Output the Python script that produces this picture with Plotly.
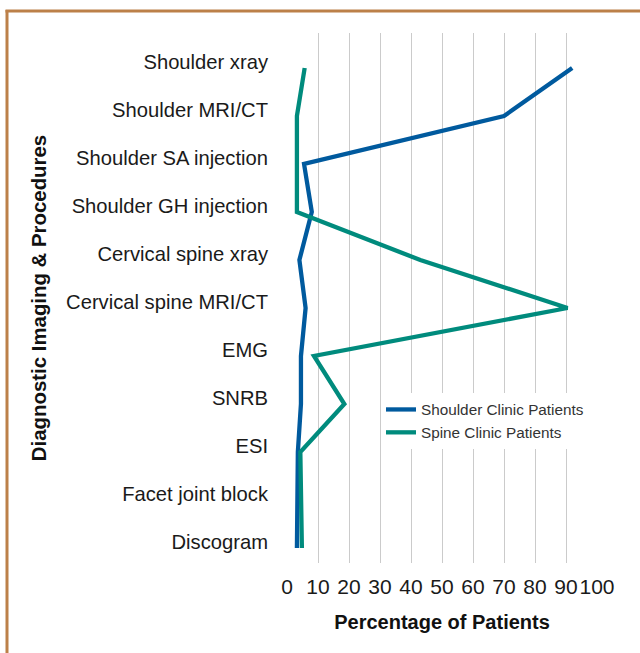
import plotly.graph_objects as go

categories = [
    "Shoulder xray", "Shoulder MRI/CT", "Shoulder SA injection", "Shoulder GH injection",
    "Cervical spine xray", "Cervical spine MRI/CT", "EMG", "SNRB", "ESI",
    "Facet joint block", "Discogram",
]
shoulder_clinic = [92, 70, 5.5, 8, 4, 6, 4.5, 4.5, 3.5, 3.3, 3.2]
spine_clinic = [5.7, 3.2, 3.2, 3.2, 43, 90.5, 8.7, 18.5, 4.3, 4.5, 4.8]
x_ticks = [0, 10, 20, 30, 40, 50, 60, 70, 80, 90, 100]

W, H = 640, 653
ML, MR, MT, MB = 287, 43, 33, 90
PW, PH = W - ML - MR, H - MT - MB

BLUE = "#005A9E"
TEAL = "#008B7D"
FONT = "Liberation Sans"

fig = go.Figure()
fig.add_trace(go.Scatter(x=shoulder_clinic, y=categories, mode="lines",
                         name="Shoulder Clinic Patients",
                         line=dict(color=BLUE, width=4.3)))
fig.add_trace(go.Scatter(x=spine_clinic, y=categories, mode="lines",
                         name="Spine Clinic Patients",
                         line=dict(color=TEAL, width=4.3)))

def px_to_paper_x(px):
    return (px - ML) / PW

def px_to_paper_y(py):
    return (H - MB - py) / PH

border = "#BC8049"
fig.add_shape(type="line", xref="paper", yref="paper",
              x0=px_to_paper_x(7), x1=px_to_paper_x(7),
              y0=px_to_paper_y(10), y1=px_to_paper_y(700),
              line=dict(color=border, width=3))
fig.add_shape(type="line", xref="paper", yref="paper",
              x0=px_to_paper_x(5.5), x1=px_to_paper_x(700),
              y0=px_to_paper_y(11), y1=px_to_paper_y(11),
              line=dict(color=border, width=3))

fig.update_layout(
    width=W, height=H,
    margin=dict(l=ML, r=MR, t=MT, b=MB, autoexpand=False),
    paper_bgcolor="white", plot_bgcolor="white",
    font=dict(family=FONT, color="#1a1a1a"),
    showlegend=True,
    legend=dict(x=px_to_paper_x(381), y=px_to_paper_y(393),
                xanchor="left", yanchor="top",
                bgcolor="white", font=dict(size=15.3, color="#333333", family=FONT),
                tracegroupgap=0),
    xaxis=dict(range=[0, 100], tickvals=x_ticks, ticktext=[str(v) for v in x_ticks],
               tickangle=0,
               showgrid=True, gridcolor="#CBCBCB", gridwidth=1.3,
               zeroline=False, showline=False, ticks="",
               ticklabelstandoff=9,
               tickfont=dict(size=21, color="#1a1a1a", family=FONT),
               title=dict(text="<b>Percentage of Patients</b>",
                          font=dict(size=20, color="#111111", family=FONT),
                          standoff=17)),
    yaxis=dict(type="category", categoryorder="array", categoryarray=categories,
               range=[10.3125, -0.729], autorange=False,
               showgrid=False, zeroline=False, showline=False, ticks="",
               ticklabelstandoff=18, ticklabelshift=6,
               tickfont=dict(size=20.2, color="#1a1a1a", family=FONT),
               title=dict(text="<b>Diagnostic Imaging &amp; Procedures</b>",
                          font=dict(size=20.4, color="#111111", family=FONT),
                          standoff=13)),
)

fig.write_html("out.html", config={"displayModeBar": False},
               post_script="document.body.style.margin='0';document.body.style.overflow='hidden';")
